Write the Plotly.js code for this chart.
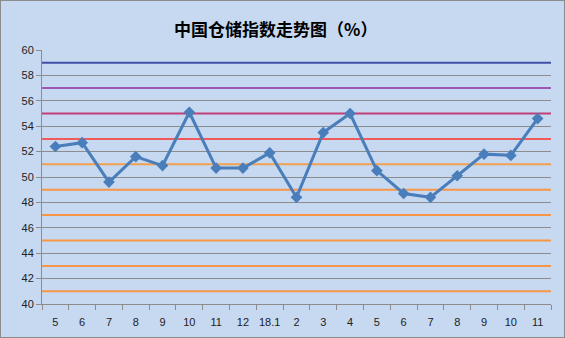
<!DOCTYPE html>
<html><head><meta charset="utf-8">
<script src="https://cdn.plot.ly/plotly-3.0.1.min.js"></script>
<style>
html,body{margin:0;padding:0;background:#fff;}
#chart{width:563px;height:336px;border:1px solid #8c8c8c;}
</style></head>
<body><div id="chart"></div>
<script>
const tickLabels = ["5","6","7","8","9","10","11","12","18.1","2","3","4","5","6","7","8","9","10","11"];
const values = [52.4,52.7,49.6,51.6,50.9,55.1,50.7,50.7,51.9,48.4,53.5,55.0,50.5,48.7,48.4,50.1,51.8,51.7,54.6];
const refLevels = [41,43,45,47,49,51,53,55,57,59];
const refColors = ["#f79646","#f79646","#f79646","#f79646","#f79646","#f0a050","#f05a5a","#c0407a","#9b59b6","#3f4fa8"];

const idx = values.map((v,i)=>i);
const shapes = refLevels.map((lv,i)=>({
  type:'line', xref:'paper', yref:'y', x0:0, x1:1, y0:lv, y1:lv,
  line:{color:refColors[i], width:2}, layer:'below'
}));

const trace = {
  x: idx, y: values, type:'scatter', mode:'lines+markers',
  line:{color:'#4a7ebb', width:3},
  marker:{symbol:'diamond', size:9, color:'#4a7ebb'},
  hoverinfo:'skip'
};

const layout = {
  width:563, height:336,
  paper_bgcolor:'#c6d9f1', plot_bgcolor:'#c6d9f1',
  margin:{l:41, r:13, t:49, b:33},
  showlegend:false,
  title:{text:'中国仓储指数走势图（%）', x:0.488, xanchor:'center', y:0.915, yanchor:'middle',
    font:{family:'"Noto Sans CJK SC", sans-serif', size:17, color:'#000', weight:'bold'}},
  xaxis:{
    range:[-0.5, values.length-0.5], tickmode:'array', tickvals:idx, ticktext:tickLabels,
    ticks:'', showgrid:false, zeroline:false, showline:true, linecolor:'#8c8c8c', linewidth:1,
    ticklabelstandoff:8,
    tickfont:{family:'Arial, "Liberation Sans", sans-serif', size:11, color:'#222'},
    minor:{tickmode:'linear', tick0:-0.5, dtick:1, ticks:'outside', ticklen:5, tickcolor:'#8c8c8c', showgrid:false},
    fixedrange:true
  },
  yaxis:{
    range:[40,60], tickmode:'linear', tick0:40, dtick:2,
    ticks:'outside', ticklen:5, tickcolor:'#8c8c8c',
    showgrid:true, gridcolor:'#8c8c8c', gridwidth:1,
    zeroline:false, showline:true, linecolor:'#8c8c8c', linewidth:1,
    tickfont:{family:'Arial, "Liberation Sans", sans-serif', size:11, color:'#222'},
    fixedrange:true
  },
  shapes: shapes
};
Plotly.newPlot('chart',[trace],layout,{displayModeBar:false, staticPlot:true});
</script></body></html>
